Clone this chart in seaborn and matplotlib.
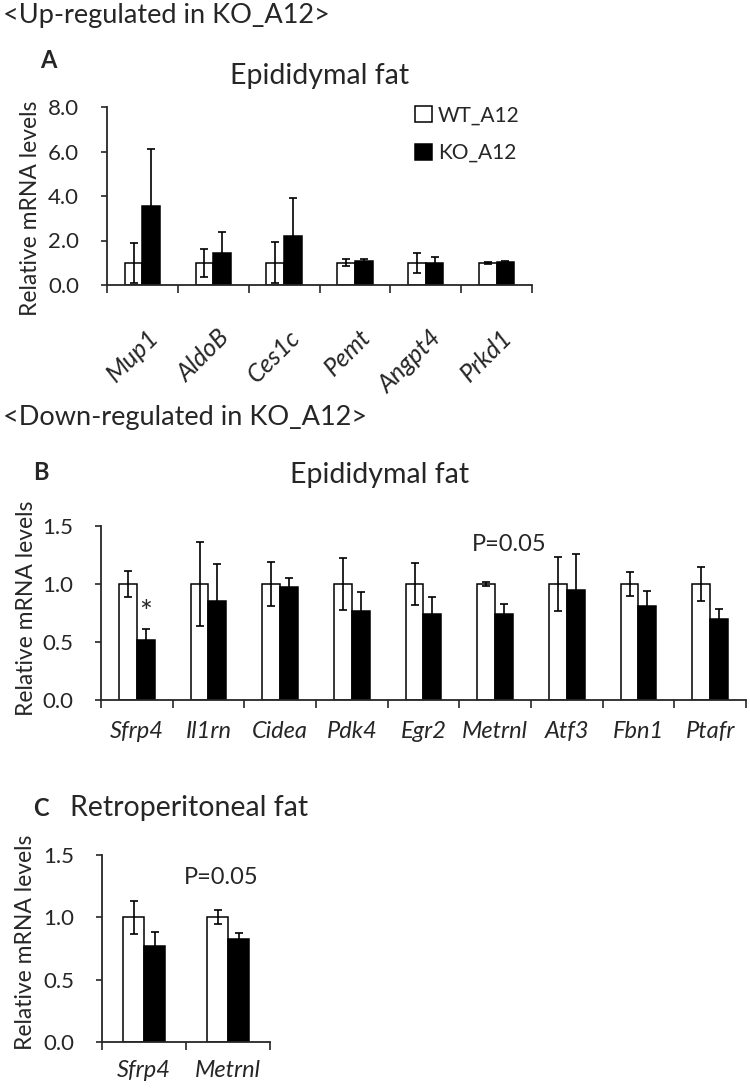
import numpy as np
import pandas as pd
import matplotlib
matplotlib.use("Agg")
import matplotlib.pyplot as plt
import matplotlib.transforms as mtransforms
import seaborn as sns

# ---- data ----
groups = ["WT_A12", "KO_A12"]

genes_a = ["Mup1", "AldoB", "Ces1c", "Pemt", "Angpt4", "Prkd1"]
wt_a = [1.0, 1.0, 1.0, 1.0, 1.0, 1.0]
wt_a_err = [0.90, 0.63, 0.93, 0.15, 0.44, 0.05]
ko_a = [3.55, 1.45, 2.20, 1.08, 1.00, 1.03]
ko_a_err = [2.57, 0.92, 1.72, 0.07, 0.26, 0.06]

genes_b = ["Sfrp4", "Il1rn", "Cidea", "Pdk4", "Egr2", "Metrnl", "Atf3", "Fbn1", "Ptafr"]
wt_b = [1.0, 1.0, 1.0, 1.0, 1.0, 1.0, 1.0, 1.0, 1.0]
wt_b_err = [0.11, 0.36, 0.19, 0.22, 0.18, 0.02, 0.23, 0.10, 0.15]
ko_b = [0.52, 0.85, 0.97, 0.77, 0.74, 0.74, 0.95, 0.81, 0.70]
ko_b_err = [0.09, 0.32, 0.085, 0.16, 0.145, 0.09, 0.31, 0.13, 0.085]

genes_c = ["Sfrp4", "Metrnl"]
wt_c = [1.0, 1.0]
wt_c_err = [0.135, 0.056]
ko_c = [0.77, 0.83]
ko_c_err = [0.115, 0.045]

sns.set_style("ticks")
plt.rcParams["font.family"] = ["Lato", "DejaVu Sans"]

W, H = 750, 1089
fig = plt.figure(figsize=(W / 100, H / 100), dpi=100)


def px_axes(left, top, right, bottom):
    return fig.add_axes([left / W, 1 - bottom / H, (right - left) / W, (bottom - top) / H])


def make_df(genes, wt, wt_err, ko, ko_err):
    return pd.DataFrame({
        "gene": genes * 2,
        "group": [groups[0]] * len(genes) + [groups[1]] * len(genes),
        "value": wt + ko,
        "err": wt_err + ko_err,
    })


def bar_panel(ax, df, ymax, yticks, label_xy, show_legend=False):
    sns.barplot(data=df, x="gene", y="value", hue="group", hue_order=groups,
                palette={"WT_A12": "white", "KO_A12": "black"},
                edgecolor="black", linewidth=1.1, width=0.5, gap=0,
                errorbar=None, legend=show_legend, ax=ax)
    for cont, g in zip(ax.containers, groups):
        sub = df[df["group"] == g]
        xs = [b.get_x() + b.get_width() / 2 for b in cont]
        ax.errorbar(xs, sub["value"], yerr=sub["err"], fmt="none", ecolor="black",
                    elinewidth=1.2, capsize=3, capthick=1.2, zorder=5)
    n = df["gene"].nunique()
    ax.set_xlim(-0.5, n - 0.5)
    ax.set_ylim(0, ymax)
    ax.set_yticks(yticks)
    ax.set_yticklabels([f"{t:.1f}" for t in yticks])
    ax.set_xticks(np.arange(-0.5, n, 1), minor=True)
    ax.tick_params(axis="x", which="major", length=0, labelsize=17)
    ax.tick_params(axis="x", which="minor", length=6, width=1.2, direction="out")
    ax.tick_params(axis="y", length=4, width=1.2, labelsize=16, pad=16)
    for s in ["top", "right"]:
        ax.spines[s].set_visible(False)
    for s in ["left", "bottom"]:
        ax.spines[s].set_linewidth(1.3)
    ax.set_xlabel("")
    ax.set_ylabel("Relative mRNA levels", fontsize=16.5)
    ax.yaxis.set_label_coords(*label_xy)
    for lab in ax.get_xticklabels():
        lab.set_fontstyle("italic")
    return ax


# ---- panel A ----
axA = px_axes(107, 107, 532, 285)
dfA = make_df(genes_a, wt_a, wt_a_err, ko_a, ko_a_err)
bar_panel(axA, dfA, 8.0, [0, 2, 4, 6, 8], (-0.155, 0.43), show_legend=True)
axA.tick_params(axis="x", which="major", pad=20, labelsize=18)
shift = mtransforms.ScaledTranslation(3 / 72, -9 / 72, fig.dpi_scale_trans)
for lab in axA.get_xticklabels():
    lab.set_rotation(45)
    lab.set_ha("right")
    lab.set_va("top")
    lab.set_rotation_mode("anchor")
    lab.set_transform(lab.get_transform() + shift)
sns.move_legend(axA, loc="upper left", bbox_to_anchor=(0.725, 1.01), frameon=False,
                title=None, fontsize=15, handlelength=0.8, handleheight=0.8,
                handletextpad=0.3, labelspacing=0.85, borderpad=0, borderaxespad=0)

# ---- panel B ----
axB = px_axes(101, 526, 746, 700)
dfB = make_df(genes_b, wt_b, wt_b_err, ko_b, ko_b_err)
bar_panel(axB, dfB, 1.5, [0, 0.5, 1.0, 1.5], (-0.099, 0.529))
axB.tick_params(axis="x", which="major", pad=15)
star_bar = axB.containers[1][0]
axB.text(star_bar.get_x() + star_bar.get_width() / 2, 0.67, "*", ha="center",
         va="baseline", fontsize=22)
axB.text(5.2, 1.34, "P=0.05", ha="center", va="center", fontsize=17)

# ---- panel C ----
axC = px_axes(102, 855, 270, 1042)
dfC = make_df(genes_c, wt_c, wt_c_err, ko_c, ko_c_err)
bar_panel(axC, dfC, 1.5, [0, 0.5, 1.0, 1.5], (-0.393, 0.535))
axC.tick_params(axis="x", which="major", pad=13)
axC.text(0.92, 1.32, "P=0.05", ha="center", va="center", fontsize=17)

# ---- headings ----
fig.text(3 / W, 1 - 16 / H, "<Up-regulated in KO_A12>", fontsize=19.5, va="center")
fig.text(40 / W, 1 - 60 / H, "A", fontsize=17, weight="bold", va="center")
fig.text(320 / W, 1 - 76 / H, "Epididymal fat", fontsize=20.5, ha="center", va="center")

fig.text(3 / W, 1 - 417 / H, "<Down-regulated in KO_A12>", fontsize=19.5, va="center")
fig.text(33 / W, 1 - 472 / H, "B", fontsize=17, weight="bold", va="center")
fig.text(380 / W, 1 - 475 / H, "Epididymal fat", fontsize=20.5, ha="center", va="center")

fig.text(33 / W, 1 - 808 / H, "C", fontsize=17, weight="bold", va="center")
fig.text(70 / W, 1 - 808 / H, "Retroperitoneal fat", fontsize=20.5, va="center")

fig.savefig("out.png", dpi=100, facecolor="white")
